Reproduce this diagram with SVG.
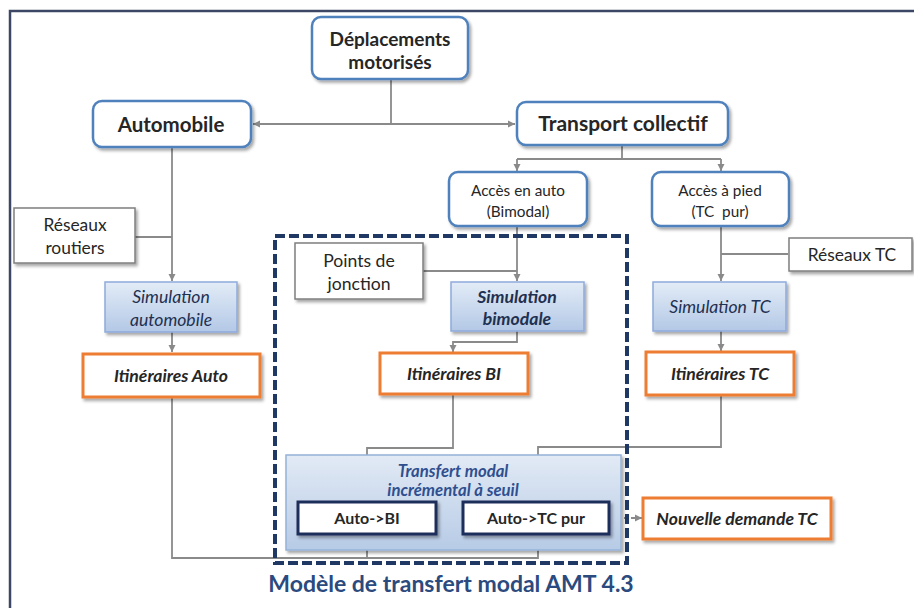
<svg xmlns="http://www.w3.org/2000/svg" width="914" height="608" viewBox="0 0 914 608">
<defs>
<filter id="sh" x="-10%" y="-10%" width="130%" height="140%">
<feDropShadow dx="2" dy="2.5" stdDeviation="1.5" flood-color="#000" flood-opacity="0.35"/>
</filter>
<linearGradient id="gSim" x1="0" y1="0" x2="0" y2="1">
<stop offset="0" stop-color="#e3ecf7"/>
<stop offset="1" stop-color="#b3c8e6"/>
</linearGradient>
<linearGradient id="gTr" x1="0" y1="0" x2="0" y2="1">
<stop offset="0" stop-color="#e2eaf5"/>
<stop offset="1" stop-color="#b7cbe6"/>
</linearGradient>
<marker id="ar" markerWidth="8" markerHeight="8" refX="7" refY="4" orient="auto" markerUnits="userSpaceOnUse">
<path d="M0,0.5 L7,4 L0,7.5 z" fill="#8a8a8a"/>
</marker>
<marker id="ars" markerWidth="8" markerHeight="8" refX="7" refY="4" orient="auto-start-reverse" markerUnits="userSpaceOnUse">
<path d="M0,0.5 L7,4 L0,7.5 z" fill="#8a8a8a"/>
</marker>
</defs>
<style>
text{font-family:Lato,"Open Sans","Liberation Sans",sans-serif;text-anchor:middle;fill:#262626}
.blue{fill:#fff;stroke:#4f81bd;stroke-width:2.5}
.grey{fill:#fff;stroke:#7f7f7f;stroke-width:1.5}
.sim{fill:url(#gSim);stroke:#8eaadb;stroke-width:1.5}
.org{fill:#fff;stroke:#ed7d31;stroke-width:3}
.nav{fill:#fff;stroke:#1f2d5a;stroke-width:3}
.b{font-weight:bold}
.bi{font-weight:bold;font-style:italic}
.it{font-style:italic}
.st{fill:#1f3050}
.conn path,.conn line{fill:none;stroke:#8a8a8a;stroke-width:1.8}
</style>
<rect x="10" y="11" width="930" height="640" fill="none" stroke="#3c4766" stroke-width="2.5"/>

<g class="conn">
<line x1="391" y1="79" x2="391" y2="124"/>
<line x1="253" y1="124" x2="515" y2="124" marker-start="url(#ars)" marker-end="url(#ar)"/>
<line x1="622" y1="145" x2="622" y2="159"/>
<path d="M517,159 H721"/>
<path d="M517,159 V171" marker-end="url(#ar)"/>
<path d="M721,159 V171" marker-end="url(#ar)"/>
<path d="M172,147 V281" marker-end="url(#ar)"/>
<path d="M135,237 H172"/>
<path d="M172,332 V352" marker-end="url(#ar)"/>
<path d="M517,226 V281" marker-end="url(#ar)"/>
<path d="M423,271 H517"/>
<path d="M517,331 V342 H453 V352" marker-end="url(#ar)"/>
<path d="M721,226 V281" marker-end="url(#ar)"/>
<path d="M721,254 H788"/>
<path d="M721,331 V351" marker-end="url(#ar)"/>
<path d="M453,394 V448 H367 V501" marker-end="url(#ar)"/>
<path d="M721,395 V447 H538 V501" marker-end="url(#ar)"/>
<path d="M172,397 V558 H538 V535" marker-end="url(#ar)"/>
<path d="M367,558 V535" marker-end="url(#ar)"/>
<path d="M610,518 H642" stroke-dasharray="4,3" marker-end="url(#ar)"/>
</g>

<g id="n-deplacements">
<rect class="blue" x="312" y="17" width="156" height="62" rx="9" filter="url(#sh)"/>
<text class="b" x="390" y="46" font-size="19">Déplacements</text>
<text class="b" x="390" y="69" font-size="19">motorisés</text>
</g>
<g id="n-automobile">
<rect class="blue" x="93" y="101" width="158" height="46" rx="9" filter="url(#sh)"/>
<text class="b" x="171" y="132" font-size="20.5">Automobile</text>
</g>
<g id="n-tc">
<rect class="blue" x="517" y="102" width="211" height="43" rx="9" filter="url(#sh)"/>
<text class="b" x="623" y="131" font-size="21">Transport collectif</text>
</g>
<g id="n-acces-auto">
<rect class="blue" x="449" y="172" width="138" height="54" rx="9" filter="url(#sh)"/>
<text x="518" y="196" font-size="15.3">Accès en auto</text>
<text x="518" y="217" font-size="15.3">(Bimodal)</text>
</g>
<g id="n-acces-pied">
<rect class="blue" x="652" y="172" width="137" height="54" rx="9" filter="url(#sh)"/>
<text x="720" y="196" font-size="15.3">Accès à pied</text>
<text x="720" y="217" font-size="15.3" style="white-space:pre">(TC  pur)</text>
</g>
<g id="n-reseaux-routiers">
<rect class="grey" x="14" y="208" width="121" height="55" filter="url(#sh)"/>
<text x="75" y="231" font-size="17.4">Réseaux</text>
<text x="75" y="254" font-size="17.4">routiers</text>
</g>
<g id="n-sim-auto">
<rect class="sim" x="105" y="282" width="132" height="50" filter="url(#sh)"/>
<text class="it st" x="171" y="303" font-size="17.6">Simulation</text>
<text class="it st" x="171" y="326" font-size="17.6">automobile</text>
</g>
<g id="n-itin-auto">
<rect class="org" x="83" y="354" width="177" height="43" filter="url(#sh)"/>
<text class="bi" x="171" y="382" font-size="17.6">Itinéraires Auto</text>
</g>
<g id="n-points-jonction">
<rect class="grey" x="295" y="243" width="128" height="56" filter="url(#sh)"/>
<text x="359" y="267" font-size="17.6">Points de</text>
<text x="359" y="290" font-size="17.6">jonction</text>
</g>
<g id="n-sim-bimodale">
<rect class="sim" x="451" y="282" width="133" height="49" filter="url(#sh)"/>
<text class="bi st" x="517" y="303" font-size="17.6">Simulation</text>
<text class="bi st" x="517" y="325" font-size="17.6">bimodale</text>
</g>
<g id="n-itin-bi">
<rect class="org" x="380" y="353" width="148" height="41" filter="url(#sh)"/>
<text class="bi" x="454" y="380" font-size="17.6">Itinéraires BI</text>
</g>
<g id="n-reseaux-tc">
<rect class="grey" x="789" y="238" width="123" height="33" filter="url(#sh)"/>
<text x="852" y="261" font-size="17.4">Réseaux TC</text>
</g>
<g id="n-sim-tc">
<rect class="sim" x="653" y="282" width="133" height="49" filter="url(#sh)"/>
<text class="it st" x="720" y="313" font-size="17.6">Simulation TC</text>
</g>
<g id="n-itin-tc">
<rect class="org" x="646" y="352" width="148" height="43" filter="url(#sh)"/>
<text class="bi" x="720" y="380" font-size="17.6">Itinéraires TC</text>
</g>

<g id="n-modele">
<rect x="275" y="236" width="352" height="327" fill="none" stroke="#1f3864" stroke-width="4" stroke-dasharray="10,4"/>
<text class="b" x="451" y="592" font-size="23" style="fill:#2b4a7e">Modèle de transfert modal AMT 4.3</text>
</g>
<g id="n-transfert">
<rect x="286" y="455" width="335" height="95" fill="url(#gTr)" stroke="#95b3d7" stroke-width="1.5" filter="url(#sh)"/>
<text class="bi" x="453" y="477" font-size="16.7" style="fill:#2f4f8f">Transfert modal</text>
<text class="bi" x="453" y="496" font-size="16.7" style="fill:#2f4f8f">incrémental à seuil</text>
</g>
<g id="n-auto-bi">
<rect class="nav" x="298" y="502" width="138" height="32" filter="url(#sh)"/>
<text class="b" x="367" y="524" font-size="16">Auto-&gt;BI</text>
</g>
<g id="n-auto-tc">
<rect class="nav" x="463" y="502" width="146" height="32" filter="url(#sh)"/>
<text class="b" x="536" y="524" font-size="16">Auto-&gt;TC pur</text>
</g>
<g id="n-nouvelle">
<rect class="org" x="643" y="498" width="188" height="41" filter="url(#sh)"/>
<text class="bi" x="737" y="525" font-size="17.6">Nouvelle demande TC</text>
</g>
</svg>
